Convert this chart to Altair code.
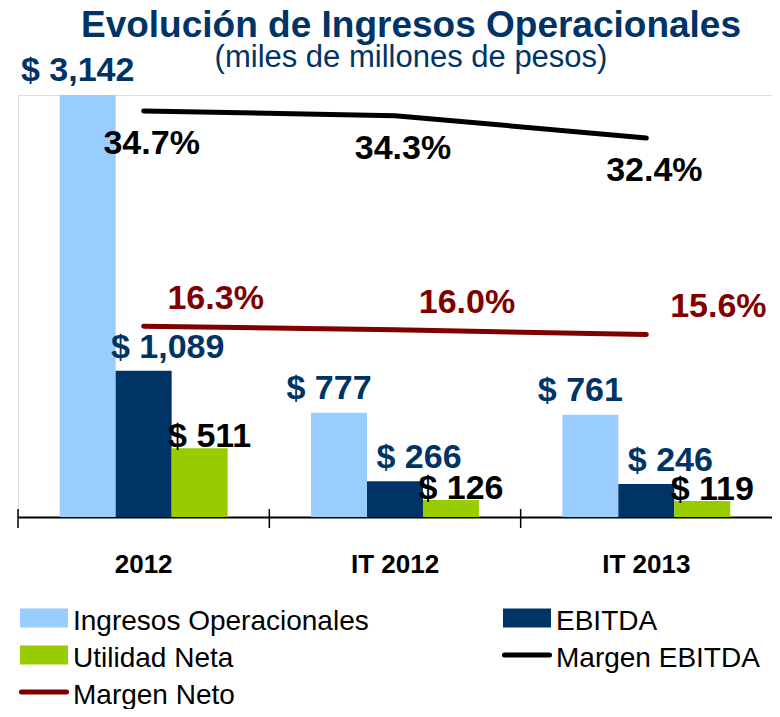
import altair as alt
import pandas as pd

# ---- data ----
periodos = ["2012", "IT 2012", "IT 2013"]
series_barras = ["Ingresos Operacionales", "EBITDA", "Utilidad Neta"]
ingresos = [3142, 777, 761]
ebitda = [1089, 266, 246]
utilidad = [511, 126, 119]
series_lineas = ["Margen EBITDA", "Margen Neto"]
margen_ebitda = [34.7, 34.3, 32.4]
margen_neto = [16.3, 16.0, 15.6]
leyenda = ["Ingresos Operacionales", "EBITDA", "Utilidad Neta", "Margen EBITDA", "Margen Neto"]
colores = ["#99CCFF", "#003366", "#99CC00", "#000000", "#800000"]

rows_b = []
for s, vals in zip(series_barras, [ingresos, ebitda, utilidad]):
    for p, v in zip(periodos, vals):
        rows_b.append({"periodo": p, "serie": s, "valor": v, "etiqueta": f"$ {v:,}"})
df_b = pd.DataFrame(rows_b)

rows_l = []
for s, vals in zip(series_lineas, [margen_ebitda, margen_neto]):
    for p, v in zip(periodos, vals):
        rows_l.append({"periodo": p, "serie": s, "pct": v, "etiqueta": f"{v:.1f}%"})
df_l = pd.DataFrame(rows_l)

n_cols = 2
df_leg = pd.DataFrame({
    "serie": leyenda,
    "col": [i % n_cols for i in range(len(leyenda))],
    "fila": [i // n_cols for i in range(len(leyenda))],
    "tipo": ["barra" if s in series_barras else "linea" for s in leyenda],
})
n_filas = int(df_leg["fila"].max()) + 1
df_p = pd.DataFrame({"periodo": periodos})

# ---- styles ----
FONT = "Liberation Sans, Arial, sans-serif"
W, H = 754, 422
color_scale = alt.Scale(domain=leyenda, range=colores)
y_bar = alt.Scale(domain=[0, 3142], nice=False, zero=True)
y_pct = alt.Scale(domain=[0, H / 11.7], nice=False, zero=True)

x_axis = alt.Axis(
    title=None, labelAngle=0, labelFont=FONT, labelFontSize=26,
    labelFontWeight="bold", labelColor="#000000", labelBaseline="alphabetic",
    labelPadding=55, domainColor="#000000", domainWidth=2,
    ticks=False, tickSize=0, grid=False,
)
x_scale = alt.Scale(paddingInner=0, paddingOuter=0)
x_axis_enc = alt.X("periodo:N", sort=periodos, scale=x_scale, axis=x_axis)
x_enc = alt.X("periodo:N", sort=periodos, scale=x_scale, axis=None)
xo_enc = alt.XOffset("serie:N", sort=series_barras,
                     scale=alt.Scale(paddingInner=0, paddingOuter=0.745))

bars = alt.Chart(df_b).mark_bar().encode(
    x=x_axis_enc, xOffset=xo_enc,
    y=alt.Y("valor:Q", scale=y_bar, axis=None),
    color=alt.Color("serie:N", scale=color_scale, legend=None),
)

# axis ticks on the category boundaries, crossing the axis line
ticks = alt.Chart(df_p).mark_rule(color="#000000", strokeWidth=1.5).encode(
    x=alt.X("periodo:N", sort=periodos, scale=x_scale, axis=None, bandPosition=0),
    y=alt.value(H - 8), y2=alt.value(H + 11),
)

bar_label_style = {
    "Ingresos Operacionales": dict(dx=-10, dy=-14, color="#003366"),
    "EBITDA": dict(dx=24, dy=-13, color="#003366"),
    "Utilidad Neta": dict(dx=10, dy=-1, color="#000000"),
}
bar_labels = [
    alt.Chart(df_b).transform_filter(alt.datum.serie == s).mark_text(
        font=FONT, fontSize=34, fontWeight="bold", baseline="alphabetic",
        align="center", **bar_label_style[s]
    ).encode(x=x_enc, xOffset=xo_enc, y=alt.Y("valor:Q", scale=y_bar, axis=None),
             text="etiqueta:N")
    for s in series_barras
]

lines = alt.Chart(df_l).mark_line(strokeWidth=5, strokeCap="round", strokeJoin="round").encode(
    x=x_enc,
    y=alt.Y("pct:Q", scale=y_pct, axis=None),
    color=alt.Color("serie:N", scale=color_scale, legend=None),
)

line_label_style = {
    "Margen EBITDA": dict(dx=8, dy=43, color="#000000"),
    "Margen Neto": dict(dx=72, dy=-17, color="#800000"),
}
line_labels = [
    alt.Chart(df_l).transform_filter(alt.datum.serie == s).mark_text(
        font=FONT, fontSize=34, fontWeight="bold", baseline="alphabetic",
        align="center", **line_label_style[s]
    ).encode(x=x_enc, y=alt.Y("pct:Q", scale=y_pct, axis=None), text="etiqueta:N")
    for s in series_lineas
]

# ---- manual legend (below the plot, own point scales) ----
x_leg = alt.X("col:O", scale=alt.Scale(type="point", domain=list(range(n_cols)),
                                       range=[26, 509], padding=0), axis=None)
y_leg = alt.Y("fila:O", scale=alt.Scale(type="point", domain=list(range(n_filas)),
                                        range=[H + 101, H + 175], padding=0), axis=None)
leg_bars = alt.Chart(df_leg).transform_filter(alt.datum.tipo == "barra").mark_point(
    shape="M-1,-0.4H1V0.4H-1Z", filled=True, size=2304, opacity=1
).encode(x=x_leg, y=y_leg, color=alt.Color("serie:N", scale=color_scale, legend=None))
leg_lines = alt.Chart(df_leg).transform_filter(alt.datum.tipo == "linea").mark_point(
    shape="M-0.94,0H0.94", filled=False, size=2304, opacity=1, strokeWidth=5,
    strokeCap="round"
).encode(x=x_leg, y=y_leg, color=alt.Color("serie:N", scale=color_scale, legend=None))
leg_text = alt.Chart(df_leg).mark_text(
    font=FONT, fontSize=28, align="left", baseline="alphabetic", dx=29, dy=12,
    color="#000000"
).encode(x=x_leg, y=y_leg, text="serie:N")

chart = alt.layer(
    bars, ticks, *bar_labels, lines, *line_labels, leg_bars, leg_lines, leg_text
).resolve_scale(
    x="independent", y="independent"
).properties(
    width=W, height=H,
    autosize=alt.AutoSizeParams(type="none"),
    padding={"left": 10, "top": 87, "right": 0, "bottom": 192},
    title=alt.Title(
        "Evolución de Ingresos Operacionales",
        subtitle="(miles de millones de pesos)",
        font=FONT, fontSize=37, fontWeight="bold", color="#003366",
        subtitleFont=FONT, subtitleFontSize=31, subtitleColor="#003366",
        subtitleFontWeight="normal", subtitlePadding=-2,
        anchor="middle", frame="group", offset=-17, dx=16, dy=3,
    ),
).configure_view(stroke=None).configure(background="white")

chart.save("out.html", embed_options={"renderer": "svg", "actions": False})
